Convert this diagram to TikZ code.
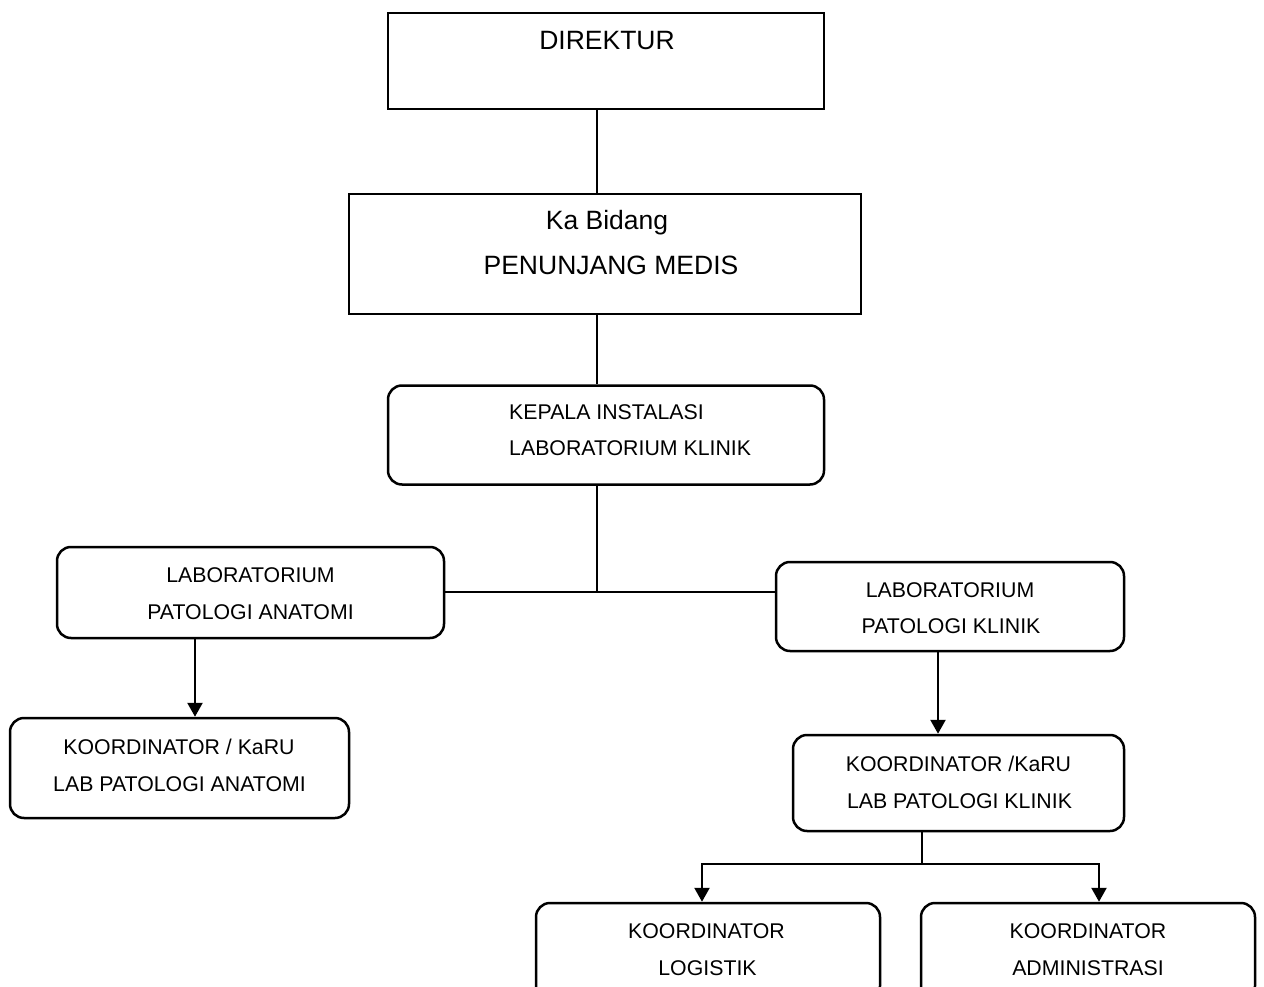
\documentclass[tikz,border=0pt]{standalone}
\usepackage{fontspec}
\setmainfont{Liberation Sans}
\usetikzlibrary{arrows.meta}
\begin{document}
\begin{tikzpicture}[x=1pt,y=-1pt,
  box/.style={draw, line width=2.5pt, inner sep=0pt, rectangle},
  rbox/.style={box, rounded corners=14pt},
  bigtxt/.style={anchor=base, inner sep=0pt, font=\fontsize{26.5}{30}\selectfont},
  smalltxt/.style={anchor=base, inner sep=0pt, font=\fontsize{21.3}{25}\selectfont},
  conn/.style={line width=2.5pt},
  arr/.style={conn, -{Triangle[length=14pt,width=15pt]}}
]
\useasboundingbox (0,0) rectangle (1264,987);
\fill[white] (0,0) rectangle (1264,987);

% boxes
\node[box,  minimum width=436pt, minimum height=96pt]  (dir)  at (606,61) {};
\node[box,  minimum width=512pt, minimum height=120pt] (kab)  at (605,254) {};
\node[rbox, minimum width=436pt, minimum height=99pt]  (kep)  at (606,435) {};
\node[rbox, minimum width=387pt, minimum height=91pt]  (lpa)  at (250.5,592.5) {};
\node[rbox, minimum width=348pt, minimum height=89pt]  (lpk)  at (950,606.5) {};
\node[rbox, minimum width=339pt, minimum height=100pt] (kpa)  at (179.5,768) {};
\node[rbox, minimum width=331pt, minimum height=96pt]  (kpk)  at (958.5,783) {};
\node[rbox, minimum width=344pt, minimum height=97pt]  (klog) at (708,951.5) {};
\node[rbox, minimum width=334pt, minimum height=97pt]  (kadm) at (1088,951.5) {};

% texts
\node[bigtxt] (tdir) at (607,49.5) {DIREKTUR};
\node[bigtxt] (tkab1) at (607,230) {Ka Bidang};
\node[bigtxt] (tkab2) at (611,274) {PENUNJANG MEDIS};
\node[smalltxt, anchor=base west] (tkep1) at (509,419) {KEPALA INSTALASI};
\node[smalltxt, anchor=base west] (tkep2) at (509,455) {LABORATORIUM KLINIK};
\node[smalltxt] (tlpa1) at (250.5,582.5) {LABORATORIUM};
\node[smalltxt] (tlpa2) at (250.5,619.5) {PATOLOGI ANATOMI};
\node[smalltxt] (tlpk1) at (950,597) {LABORATORIUM};
\node[smalltxt] (tlpk2) at (951,633) {PATOLOGI KLINIK};
\node[smalltxt] (tkpa1) at (179,754) {KOORDINATOR / KaRU};
\node[smalltxt] (tkpa2) at (179.5,791) {LAB PATOLOGI ANATOMI};
\node[smalltxt] (tkpk1) at (958.5,771) {KOORDINATOR /KaRU};
\node[smalltxt] (tkpk2) at (959.5,808) {LAB PATOLOGI KLINIK};
\node[smalltxt] (tlog1) at (706.5,938) {KOORDINATOR};
\node[smalltxt] (tlog2) at (707.5,975) {LOGISTIK};
\node[smalltxt] (tadm1) at (1088,938) {KOORDINATOR};
\node[smalltxt] (tadm2) at (1088,975) {ADMINISTRASI};

% connectors
\coordinate (tx) at (597,0);
\draw[conn] (tx |- dir.south) -- (tx |- kab.north);
\draw[conn] (tx |- kab.south) -- (tx |- kep.north);
\coordinate (j) at (597,592);
\draw[conn] (tx |- kep.south) -- (j);
\draw[conn] (lpa.east |- j) -- (lpk.west |- j);
\coordinate (ax) at (195,0);
\draw[arr] (ax |- lpa.south) -- (ax |- kpa.north);
\coordinate (bx) at (938,0);
\draw[arr] (bx |- lpk.south) -- (bx |- kpk.north);
\coordinate (cx) at (922,864);
\coordinate (lx) at (702,864);
\coordinate (rx) at (1099,864);
\draw[conn] (cx |- kpk.south) -- (cx);
\draw[arr] (cx) -- (lx) -- (lx |- klog.north);
\draw[arr] (cx) -- (rx) -- (rx |- kadm.north);
\end{tikzpicture}
\end{document}
